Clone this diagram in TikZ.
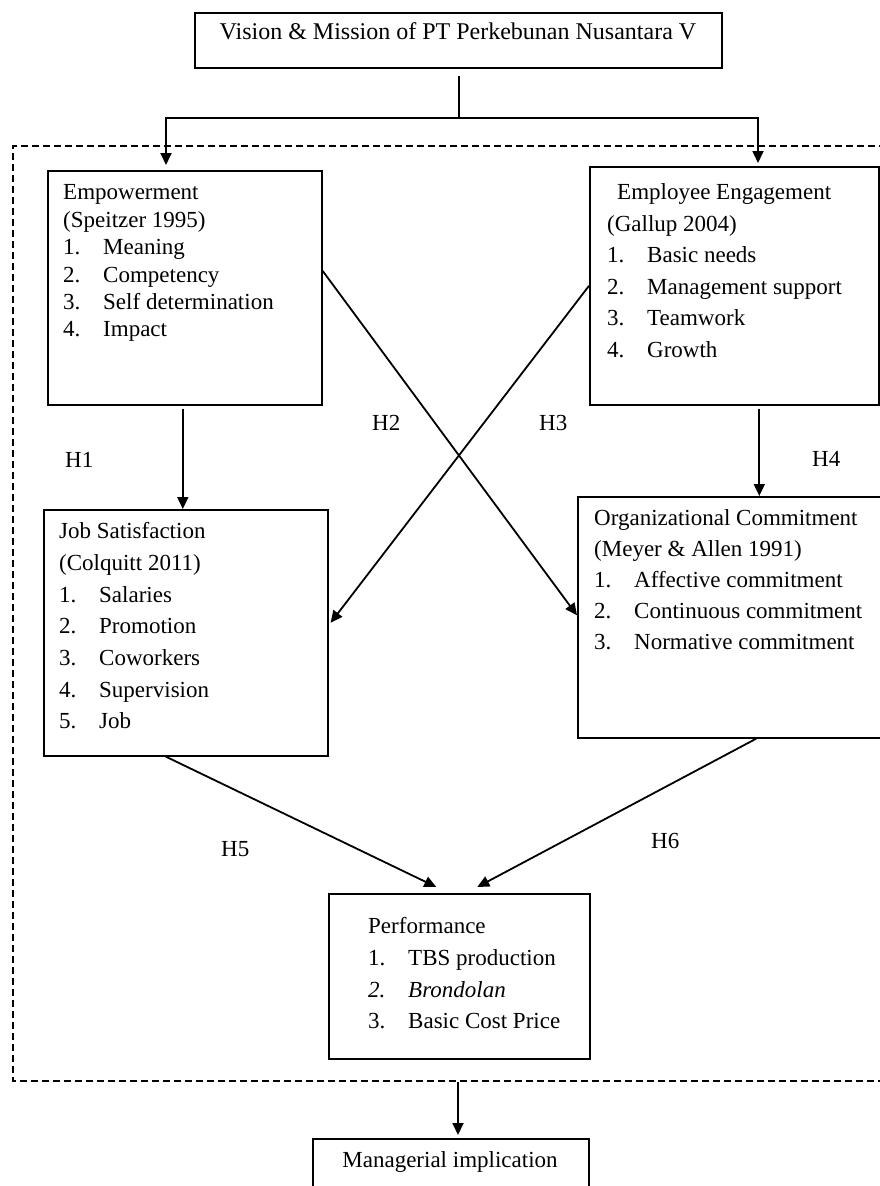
\documentclass[tikz,border=0pt]{standalone}
\usepackage{fontspec}
\setmainfont{Liberation Serif}
\usetikzlibrary{arrows.meta}
\newcommand{\numit}[2]{\makebox[40pt][l]{#1}#2}
\begin{document}
\begin{tikzpicture}[x=1pt,y=-1pt,
  box/.style={draw, line width=1.6pt, inner sep=0pt, anchor=north west},
  txt/.style={anchor=base west, inner sep=0pt, font=\fontsize{23}{28}\selectfont},
  arr/.style={line width=1.8pt, -{Triangle[length=12pt,width=11pt]}},
  ln/.style={line width=1.8pt},
  dbox/.style={line width=1.6pt, dash pattern=on 7pt off 4pt}]
\useasboundingbox (0,0) rectangle (880,1186);
\fill[white] (0,0) rectangle (880,1186);

% boxes
\node[box, minimum width=527pt, minimum height=55pt] (vis) at (194,12) {};
\node[box, minimum width=274pt, minimum height=234pt] (emp) at (47,170) {};
\node[box, minimum width=289pt, minimum height=238pt] (ee) at (589,166) {};
\node[box, minimum width=284pt, minimum height=246pt] (js) at (43,509) {};
\node[box, minimum width=305pt, minimum height=241pt] (oc) at (577,496) {};
\node[box, minimum width=261pt, minimum height=165pt] (perf) at (328,893) {};
\node[box, minimum width=276pt, minimum height=60pt] (mgr) at (312,1138) {};

% dashed frame
\draw[dbox] (886,146) -- (13,146) -- (13,1081) -- (886,1081);

% texts
\node[txt, anchor=base, font=\fontsize{24}{28}\selectfont] (visT) at (458,39) {Vision \& Mission of PT Perkebunan Nusantara V};

\node[txt] (emp1) at (63,199) {Empowerment};
\node[txt] (emp2) at (63,227) {(Speitzer 1995)};
\node[txt] (emp3) at (63,254) {\numit{1.}{Meaning}};
\node[txt] (emp4) at (63,282) {\numit{2.}{Competency}};
\node[txt] (emp5) at (63,309) {\numit{3.}{Self determination}};
\node[txt] (emp6) at (63,336) {\numit{4.}{Impact}};

\node[txt] (ee1) at (617,199) {Employee Engagement};
\node[txt] (ee2) at (607,231) {(Gallup 2004)};
\node[txt] (ee3) at (607,262) {\numit{1.}{Basic needs}};
\node[txt] (ee4) at (607,294) {\numit{2.}{Management support}};
\node[txt] (ee5) at (607,325) {\numit{3.}{Teamwork}};
\node[txt] (ee6) at (607,357) {\numit{4.}{Growth}};

\node[txt] (js1) at (59,538) {Job Satisfaction};
\node[txt] (js2) at (59,570) {(Colquitt 2011)};
\node[txt] (js3) at (59,602) {\numit{1.}{Salaries}};
\node[txt] (js4) at (59,633) {\numit{2.}{Promotion}};
\node[txt] (js5) at (59,665) {\numit{3.}{Coworkers}};
\node[txt] (js6) at (59,697) {\numit{4.}{Supervision}};
\node[txt] (js7) at (59,728) {\numit{5.}{Job}};

\node[txt] (oc1) at (594,525) {Organizational Commitment};
\node[txt] (oc2) at (594,556) {(Meyer \& Allen 1991)};
\node[txt] (oc3) at (594,587) {\numit{1.}{Affective commitment}};
\node[txt] (oc4) at (594,618) {\numit{2.}{Continuous commitment}};
\node[txt] (oc5) at (594,649) {\numit{3.}{Normative commitment}};

\node[txt] (pf1) at (368,933) {Performance};
\node[txt] (pf2) at (368,965) {\numit{1.}{TBS production}};
\node[txt] (pf3) at (368,997) {\itshape\numit{2.}{Brondolan}};
\node[txt] (pf4) at (368,1028) {\numit{3.}{Basic Cost Price}};

\node[txt, anchor=base] (mgrT) at (450,1167) {Managerial implication};

% hypothesis labels
\node[txt] (h1) at (65,467) {H1};
\node[txt] (h2) at (372,430) {H2};
\node[txt] (h3) at (539,430) {H3};
\node[txt] (h4) at (812,466) {H4};
\node[txt] (h5) at (221,856) {H5};
\node[txt] (h6) at (651,848) {H6};

% connectors
\coordinate (split) at (459,118);
\coordinate (empIn) at (166,165);
\coordinate (eeIn) at (758,163);
\coordinate (dashOut) at (458,1082);
\draw[ln] ([yshift=-7pt]vis.south -| split) -- (split);
\draw[arr] (split) -| (empIn);
\draw[arr] (split) -| (eeIn);

\draw[arr] ([xshift=-2pt,yshift=-3pt]emp.south) -- ([xshift=-3pt]js.north);
\draw[arr] ([xshift=25pt,yshift=-3pt]ee.south) -- ([xshift=25pt]ee.south |- oc.north);

\draw[arr] ([yshift=17pt]emp.east) -- ([yshift=2pt]oc.west);
\draw[arr] (ee.west) -- ([yshift=10pt,xshift=2pt]js.east);

\draw[arr] ([xshift=-20pt]js.south) -- ([xshift=-23pt,yshift=6pt]perf.north);
\draw[arr] ([xshift=26pt]oc.south) -- ([xshift=18pt,yshift=6pt]perf.north);

\draw[arr] (dashOut) -- ([yshift=3pt]mgr.north -| dashOut);
\end{tikzpicture}
\end{document}
